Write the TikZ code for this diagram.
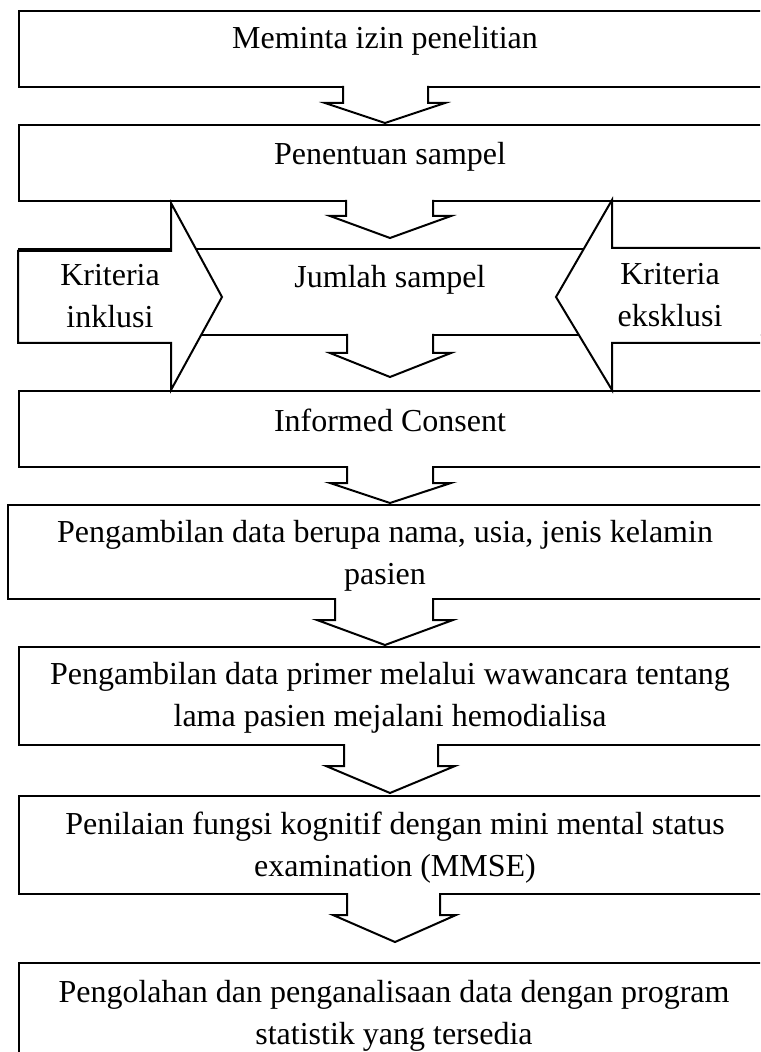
\documentclass[tikz,border=0pt]{standalone}
\usepackage{fontspec}
\setmainfont{Liberation Serif}
\newcommand{\dnarrow}[8]{%
  \fill[white] (#1,{#3-3}) -- (#1,#4) -- (#5,#4) -- (#7,#8) -- (#6,#4) -- (#2,#4) -- (#2,{#3-3}) -- cycle;
  \draw (#1,#3) -- (#1,#4) -- (#5,#4) -- (#7,#8) -- (#6,#4) -- (#2,#4) -- (#2,#3);%
}
\begin{document}
\begin{tikzpicture}[x=0.5pt,y=-0.5pt,line width=1pt,
  box/.style={draw, rectangle, anchor=north west, inner sep=0pt},
  txt/.style={font=\fontsize{16}{21}\selectfont, align=center, inner sep=0pt},
  side/.style={draw, fill=white}]
\useasboundingbox (0,0) rectangle (760,1052);
\clip (0,0) rectangle (760,1052);
% boxes
\node[box, minimum width=386pt, minimum height=38pt] (b1) at (18,10) {};
\node[box, minimum width=386pt, minimum height=38pt] (b2) at (18,124) {};
\node[box, minimum width=386pt, minimum height=43pt] (b3) at (18,248) {};
\node[box, minimum width=386pt, minimum height=38pt] (b4) at (18,390) {};
\node[box, minimum width=391.5pt, minimum height=47pt] (b5) at (7,504) {};
\node[box, minimum width=386pt, minimum height=49pt] (b6) at (18,646) {};
\node[box, minimum width=386pt, minimum height=49pt] (b7) at (18,795) {};
\node[box, minimum width=386pt, minimum height=54pt] (b8) at (18,962) {};
% side arrows
\draw[side] (18,251) -- (171,251) -- (171,203) -- (222,297) -- (171,390) -- (171,343) -- (18,343) -- cycle;
\draw[side] (790,248) -- (612,248) -- (612,200) -- (556,297) -- (612,390) -- (612,343) -- (790,343) -- cycle;
% down arrows
\dnarrow{343}{428}{86}{103}{325}{445}{385}{123}
\dnarrow{346}{433}{200}{216}{330}{451}{390}{238}
\dnarrow{347}{433}{334}{353}{330}{451}{390}{377}
\dnarrow{347}{433}{466}{483}{330}{451}{390}{503}
\dnarrow{335}{433}{598}{620}{317}{453}{385}{645}
\dnarrow{344}{438}{744}{766}{326}{455}{390}{793}
\dnarrow{347}{440}{893}{915}{333}{456}{395}{942}
% texts
\node[txt] (t1) at (385,41) {Meminta izin penelitian};
\node[txt] (t2) at (390,157) {Penentuan sampel};
\node[txt] (t3) at (390,280) {Jumlah sampel};
\node[txt] (t3l) at (110,296) {Kriteria\\inklusi};
\node[txt] (t3r) at (670,295) {Kriteria\\eksklusi};
\node[txt] (t4) at (390,420) {Informed Consent};
\node[txt] (t5) at (385,556) {Pengambilan data berupa nama, usia, jenis kelamin\\pasien};
\node[txt] (t6) at (390,698) {Pengambilan data primer melalui wawancara tentang\\lama pasien mejalani hemodialisa};
\node[txt] (t7) at (395,848) {Penilaian fungsi kognitif dengan mini mental status\\examination (MMSE)};
\node[txt] (t8) at (394,1016) {Pengolahan dan penganalisaan data dengan program\\statistik yang tersedia};
\end{tikzpicture}
\end{document}
